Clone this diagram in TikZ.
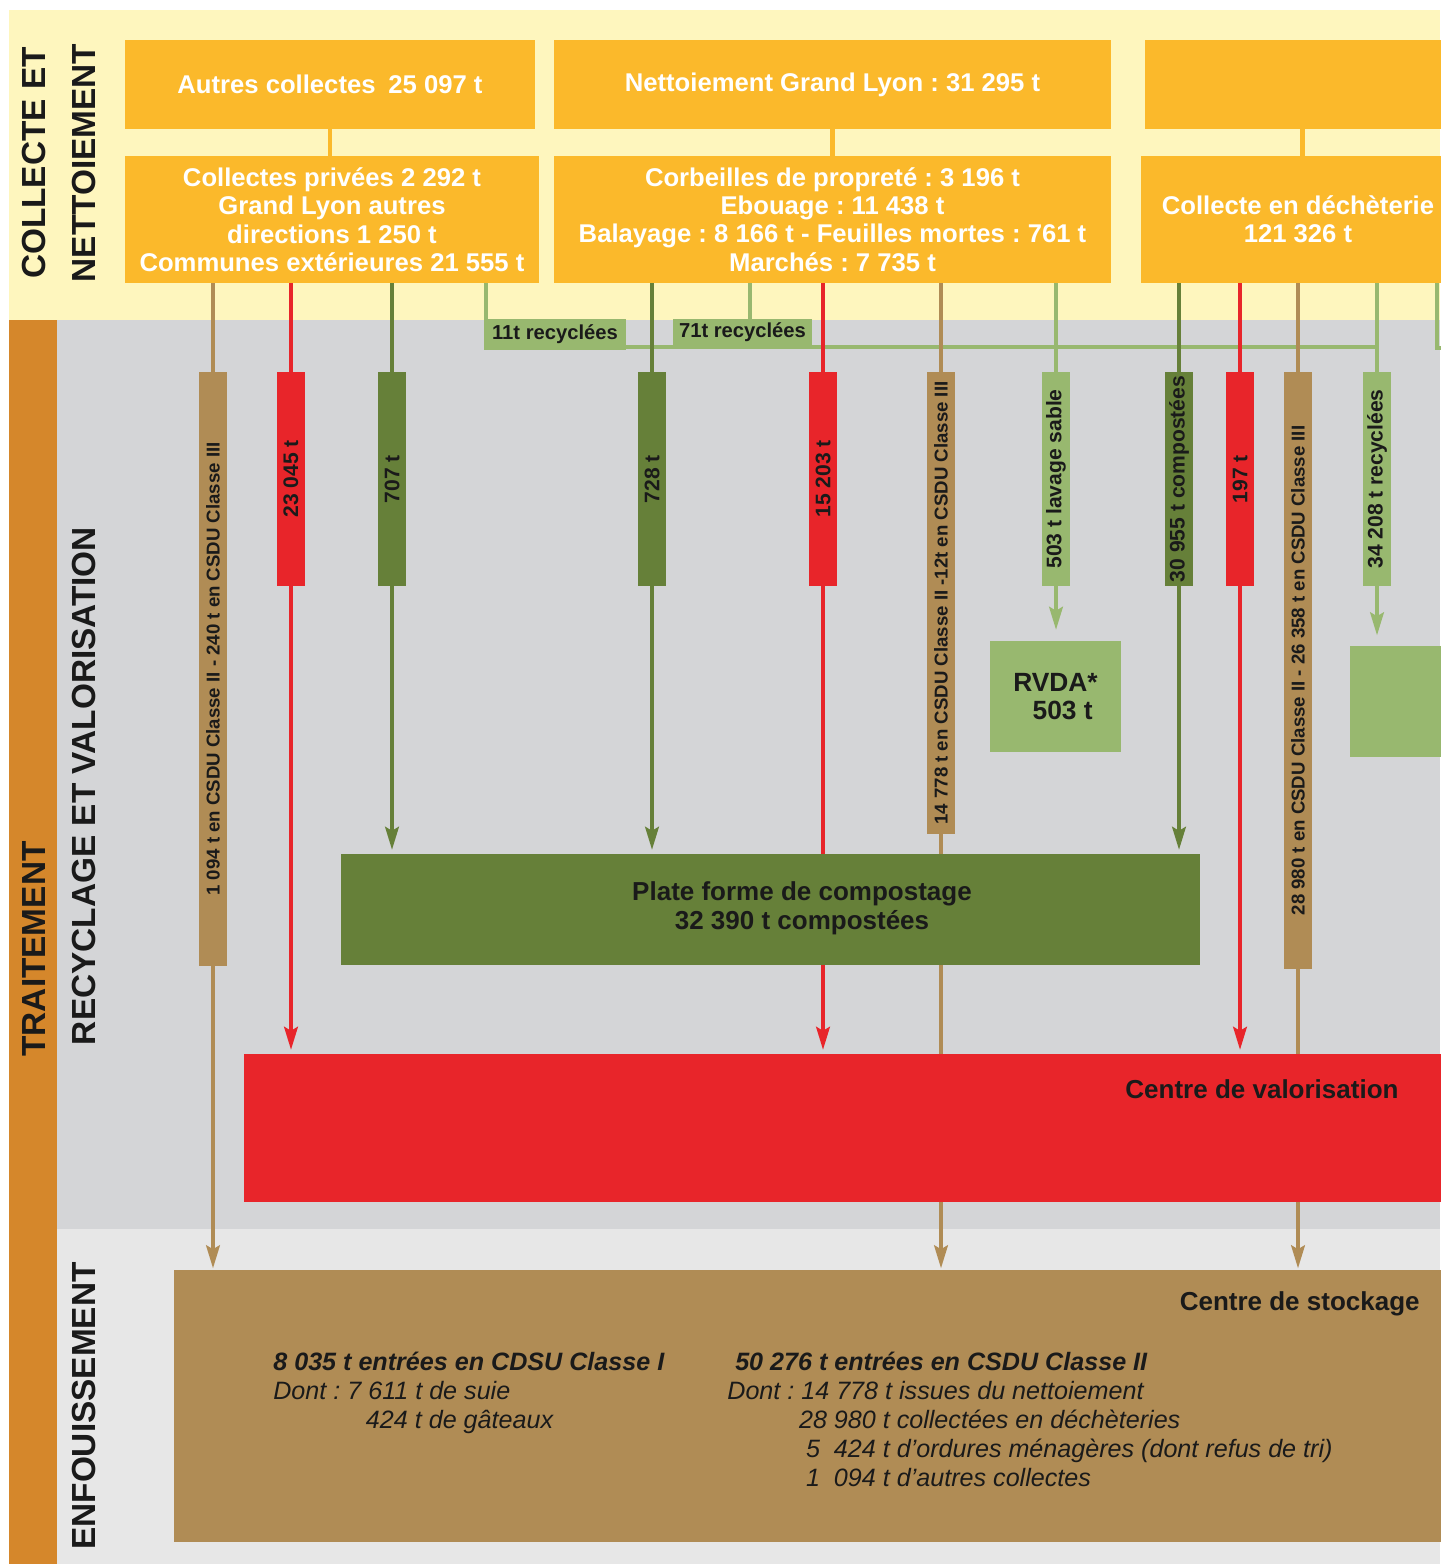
\documentclass[tikz,border=0pt]{standalone}
\usepackage{fontspec}
\setmainfont{Liberation Sans}
\usepackage{graphicx}
\usetikzlibrary{arrows.meta}
\frenchspacing

\pgfdeclarelayer{zones}
\pgfdeclarelayer{links}
\pgfsetlayers{zones,links,main}

\definecolor{zoneyellow}{HTML}{FEF6BE}
\definecolor{boxorange}{HTML}{FBB92B}
\definecolor{sideorange}{HTML}{D5872B}
\definecolor{zonegray}{HTML}{D4D5D7}
\definecolor{zonelight}{HTML}{E7E7E7}
\definecolor{flowred}{HTML}{E8252A}
\definecolor{flowbrown}{HTML}{B08C55}
\definecolor{flowdark}{HTML}{668039}
\definecolor{flowlight}{HTML}{98B86F}
\definecolor{ink}{HTML}{1A1A1A}

\newcommand\fsz[2]{\fontsize{#1}{#2}\selectfont}

\begin{document}
\begin{tikzpicture}[x=0.02cm, y=-0.02cm,
  area/.style n args={4}{at={({(#1+#3)/2},{(#2+#4)/2})},
    minimum width={(#3-#1)*0.02cm}, minimum height={(#4-#2)*0.02cm}},
  box/.style={fill=#1, inner sep=0pt, align=center},
  topbox/.style={box=boxorange, text=white, font=\bfseries\fsz{14.6}{16.2}},
  lab/.style={box=#1, text=ink, font=\bfseries\fsz{12}{14}},
  longlab/.style={lab=#1, font=\bfseries\fsz{10.6}{12}},
  reclab/.style={box=flowlight, text=ink, font=\bfseries\fsz{11.5}{13}},
  side/.style={rotate=90, text=ink, inner sep=0pt, font=\bfseries\fsz{19}{22}},
  boxtext/.style={text=ink, inner sep=0pt, align=center, font=\bfseries\fsz{14.8}{16.4}},
  note/.style={text=ink, inner sep=0pt, align=left, font=\itshape\fsz{14.3}{16.4}},
  flow/.style={draw=#1, line width=2.8pt},
  arr/.style={flow=#1, -{Stealth[length=13pt, width=7.5pt, inset=2pt]}}]
  \useasboundingbox (0,0) rectangle (1440,1564);
  % Zones
  \begin{pgfonlayer}{zones}
    \fill[white] (0,0) rectangle (1440,1564);
    \fill[zoneyellow] (9,10) rectangle (1440,320);
    \fill[sideorange] (9,320) rectangle (57,1564);
    \fill[zonegray] (57,320) rectangle (1440,1229);
    \fill[zonelight] (57,1229) rectangle (1440,1564);
  \end{pgfonlayer}
  % Zone titles
  \node[side] (lcoll) at (34,163) {COLLECTE ET};
  \node[side] (lnett) at (84,163) {NETTOIEMENT};
  \node[side] (ltrait) at (34,949) {TRAITEMENT};
  \node[side] (lrecy) at (84,786) {RECYCLAGE ET VALORISATION};
  \node[side] (lenf) at (84,1406) {ENFOUISSEMENT};
  % Collecte boxes
  \node[topbox, area={125}{40}{535}{129}] (a1) {Autres collectes\enspace 25 097 t};
  \node[topbox, area={125}{156}{539}{283}] (a2)
    {Collectes privées 2 292 t\\Grand Lyon autres\\directions 1 250 t\\Communes extérieures 21 555 t};
  \node[topbox, area={554}{40}{1111}{129}] (b1) {Nettoiement Grand Lyon : 31 295 t};
  \node[topbox, area={554}{156}{1111}{283}] (b2)
    {Corbeilles de propreté : 3 196 t\\Ebouage : 11 438 t\\Balayage : 8 166 t - Feuilles mortes : 761 t\\Marchés : 7 735 t};
  \node[topbox, area={1145}{40}{1460}{129}] (c1) {};
  \node[topbox, area={1141}{156}{1455}{283}] (c2) {Collecte en déchèterie\\121 326 t};
  % Flow labels
  \foreach \nm/\xa/\col/\txt in {f2/277/flowred/23 045 t, f3/378/flowdark/707 t,
      f4/638/flowdark/728 t, f5/809/flowred/15 203 t, f7/1042/flowlight/503 t lavage sable,
      f8/1165/flowdark/30 955 t compostées, f9/1226/flowred/197 t,
      f11/1363/flowlight/34 208 t recyclées}
    \node[lab=\col, area={\xa}{372}{\xa+28}{586}] (\nm) {\rotatebox{90}{\txt}};
  \foreach \nm/\xa/\yb/\txt in {f1/199/966/1 094 t en CSDU Classe II - 240 t en CSDU Classe III,
      f6/927/834/14 778 t en CSDU Classe II -12t en CSDU Classe III,
      f10/1284/969/28 980 t en CSDU Classe II - 26 358 t en CSDU Classe III}
    \node[longlab=flowbrown, area={\xa}{372}{\xa+28}{\yb}] (\nm) {\rotatebox{90}{\txt}};
  \node[reclab, area={484}{319}{626}{350}] (r11) {11t recyclées};
  \node[reclab, area={673}{319}{812}{346}] (r71) {71t recyclées};
  % Treatment boxes
  \node[box=flowlight, area={990}{641}{1121}{752}, text=ink, align=left,
    font=\bfseries\fsz{15}{16.4}] (rvda) {RVDA*\\\hspace*{11pt}503 t};
  \node[box=flowlight, area={1350}{646}{1460}{757}] (recyc) {};
  \node[box=flowdark, area={341}{854}{1200}{965}] (compost) {};
  \node[boxtext] (compost-t) at (802,908) {Plate forme de compostage\\32 390 t compostées};
  \node[box=flowred, area={244}{1054}{1460}{1202}] (valor) {};
  \node[boxtext] (valor-t) at (1262,1089) {Centre de valorisation};
  \node[box=flowbrown, area={174}{1270}{1460}{1542}] (stock) {};
  \node[boxtext, anchor=east] (stock-t) at (1420,1304) {Centre de stockage};
  \node[note, anchor=north west] (cl1) at (273,1352)
    {\textbf{8 035 t entrées en CDSU Classe I}\\Dont : 7 611 t de suie\\\hspace*{52.7pt}424 t de gâteaux};
  \node[note, anchor=north west] (cl2) at (727,1352)
    {\hspace*{4.5pt}\textbf{50 276 t entrées en CSDU Classe II}\\Dont : 14 778 t issues du nettoiement\\
     \hspace*{40.8pt}28 980 t collectées en déchèteries\\
     \hspace*{44.8pt}5\ \ 424 t d’ordures ménagères (dont refus de tri)\\
     \hspace*{44.8pt}1\ \ 094 t d’autres collectes};
  % Connectors
  \begin{pgfonlayer}{links}
    \foreach \up/\dn in {a1/a2, b1/b2, c1/c2}
      \draw[flow=boxorange] (\up.south) -- (\up.south |- \dn.north);
    % recycled tonnages
    \coordinate (k11) at (486,319);
    \coordinate (k71) at (750,319);
    \coordinate (krow) at (484,347);
    \coordinate (kend) at (1437,348);
    \draw[flow=flowlight] (a2.south -| k11) -- (k11);
    \draw[flow=flowlight] (b2.south -| k71) -- (k71);
    \draw[flow=flowlight] (krow) -- (krow -| f11.north);
    \draw[flow=flowlight] (c2.south -| kend) -- (kend) -- ++(30,0);
    % flows
    \foreach \lab/\src/\dst/\col/\gap in {f1/a2/stock/flowbrown/0.6pt, f2/a2/valor/flowred/2pt,
        f3/a2/compost/flowdark/2pt, f4/b2/compost/flowdark/2pt, f5/b2/valor/flowred/2pt,
        f6/b2/stock/flowbrown/0.6pt, f7/b2/rvda/flowlight/6pt, f8/c2/compost/flowdark/2pt,
        f9/c2/valor/flowred/2pt, f10/c2/stock/flowbrown/0.6pt, f11/c2/recyc/flowlight/5.7pt} {
      \draw[flow=\col] (\src.south -| \lab.north) -- (\lab.north);
      \draw[arr=\col, shorten >=\gap] (\lab.south) -- (\lab.south |- \dst.north);
    }
  \end{pgfonlayer}
\end{tikzpicture}
\end{document}
